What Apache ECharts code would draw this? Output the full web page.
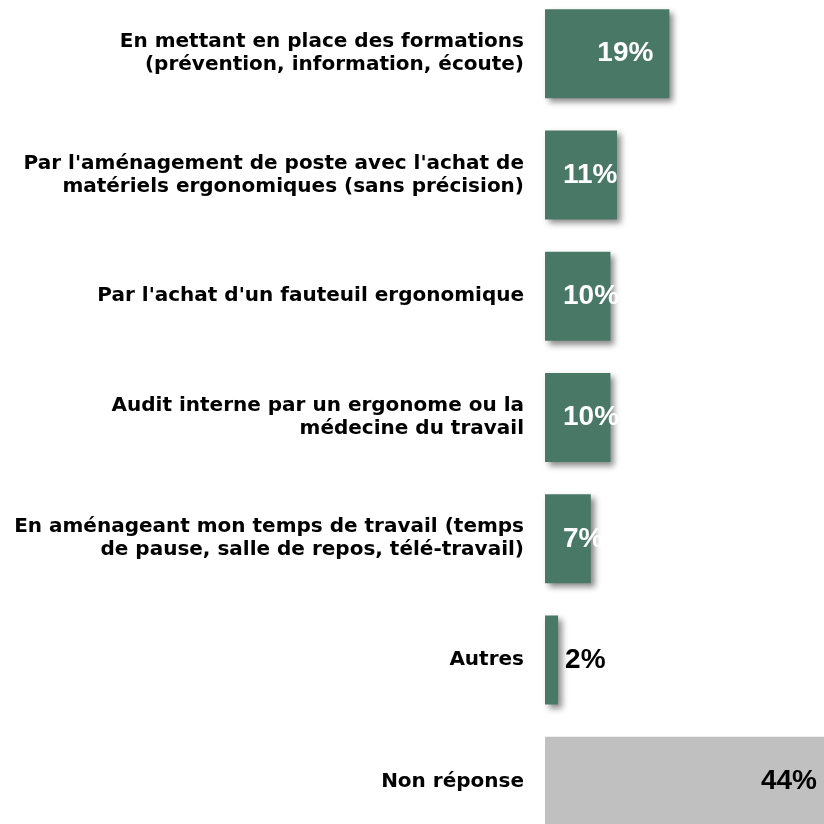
<!DOCTYPE html>
<html>
<head>
<meta charset="utf-8">
<script src="https://cdn.jsdelivr.net/npm/echarts@6/dist/echarts.min.js"></script>
<style>
  html, body { margin: 0; padding: 0; background: #fff; }
  #chart { width: 824px; height: 824px; }
</style>
</head>
<body>
<div id="chart"></div>
<script>
const categories = [
  'En mettant en place des formations\n(prévention, information, écoute)',
  "Par l'aménagement de poste avec l'achat de\nmatériels ergonomiques (sans précision)",
  "Par l'achat d'un fauteuil ergonomique",
  'Audit interne par un ergonome ou la\nmédecine du travail',
  'En aménageant mon temps de travail (temps\nde pause, salle de repos, télé-travail)',
  'Autres',
  'Non réponse'
];
const values = [19, 11, 10, 10, 7, 2, 44];
const isNoAnswer = [false, false, false, false, false, false, true];

const chart = echarts.init(document.getElementById('chart'));
const font = '"Liberation Sans", Arial, sans-serif';

const barData = values.map(function (v, i) {
  let label;
  if (isNoAnswer[i]) {
    label = { position: 'insideRight', distance: 16, color: '#000' };
  } else if (v >= 15) {
    label = { position: 'insideRight', distance: 16, color: '#fff' };
  } else if (v >= 5) {
    label = { position: 'insideLeft', distance: 18, color: '#fff' };
  } else {
    label = { position: 'right', distance: 7, color: '#000' };
  }
  return {
    value: v,
    label: label,
    itemStyle: isNoAnswer[i]
      ? { color: '#c0c0c0' }
      : {
          color: '#4a7867',
          shadowColor: 'rgba(0,0,0,0.45)',
          shadowBlur: 6,
          shadowOffsetX: 4,
          shadowOffsetY: 4
        }
  };
});

const option = {
  animation: false,
  grid: { left: 545, right: -9, top: -7, bottom: -18, outerBoundsMode: 'none' },
  xAxis: {
    type: 'value',
    min: 0,
    max: 44,
    show: false
  },
  yAxis: {
    type: 'category',
    inverse: true,
    data: categories,
    axisLine: { show: false },
    axisTick: { show: false },
    axisLabel: {
      margin: 21,
      color: '#000',
      fontFamily: '"DejaVu Sans", sans-serif',
      fontWeight: 'bold',
      fontSize: 20,
      lineHeight: 23,
      align: 'right'
    }
  },
  series: [
    {
      type: 'bar',
      barWidth: 89,
      data: barData,
      label: {
        show: true,
        formatter: '{c}%',
        fontFamily: font,
        fontWeight: 'bold',
        fontSize: 28
      }
    }
  ]
};
chart.setOption(option);
</script>
</body>
</html>
